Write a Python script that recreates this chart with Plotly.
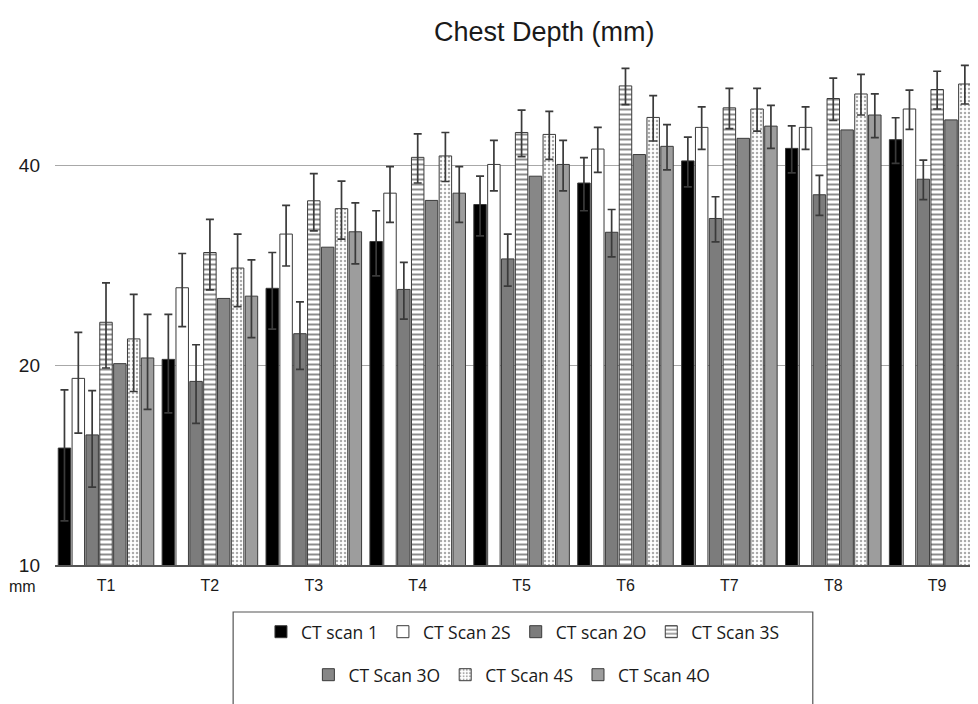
import plotly.graph_objects as go

categories = ["T1", "T2", "T3", "T4", "T5", "T6", "T7", "T8", "T9"]

scan1 = [15.0, 20.4, 26.1, 30.7, 34.9, 37.6, 40.6, 42.4, 43.7]
scan1_err = [3.35, 3.45, 3.45, 3.45, 3.6, 3.45, 3.5, 3.45, 3.45]
scan2S = [19.1, 26.15, 31.5, 36.3, 40.1, 42.3, 45.6, 45.6, 48.6]
scan2S_err = [3.3, 3.3, 3.3, 3.5, 3.5, 3.3, 3.35, 3.35, 3.3]
scan2O = [15.7, 18.9, 22.3, 26.0, 28.9, 31.7, 33.25, 36.1, 38.1]
scan2O_err = [2.6, 2.56, 2.6, 2.55, 2.6, 2.6, 2.6, 2.5, 2.6]
scan3S = [23.2, 29.55, 35.35, 41.1, 44.8, 52.65, 48.8, 50.4, 52.0]
scan3S_err = [3.4, 3.6, 3.5, 3.5, 3.6, 3.3, 3.4, 3.7, 3.4]
scan3O = [20.1, 25.2, 30.1, 35.4, 38.5, 41.5, 43.9, 45.2, 46.8]
scan4S = [21.9, 28.0, 34.4, 41.3, 44.5, 47.2, 48.6, 51.2, 53.0]
scan4S_err = [3.65, 3.5, 3.45, 3.5, 3.7, 3.7, 3.6, 3.6, 3.55]
scan4O = [20.5, 25.4, 31.75, 36.3, 40.1, 42.7, 45.8, 47.6, 48.5]
scan4O_err = [3.35, 3.4, 3.35, 3.5, 3.5, 3.35, 3.4, 3.6, 3.35]

y_ticks = [10, 20, 40]

OUT = "#3a3a3a"
ERR = "#3a3a3a"
LEG_FONT = dict(family="Open Sans, Lato, sans-serif", size=17.5, color="#1a1a1a")

series = [
    ("CT scan 1", scan1, scan1_err, dict(color="#000000"), "legend"),
    ("CT Scan 2S", scan2S, scan2S_err, dict(color="#ffffff"), "legend"),
    ("CT scan 2O", scan2O, scan2O_err, dict(color="#7c7c7c"), "legend"),
    ("CT Scan 3S", scan3S, scan3S_err,
     dict(color="#ffffff", pattern=dict(shape="-", size=5, solidity=0.4,
                                        fgcolor="#1a1a1a", bgcolor="#ffffff", fillmode="overlay")), "legend"),
    ("CT Scan 3O", scan3O, None, dict(color="#878787"), "legend2"),
    ("CT Scan 4S", scan4S, scan4S_err,
     dict(color="#ffffff", pattern=dict(shape=".", size=4, solidity=0.3,
                                        fgcolor="#555555", bgcolor="#ffffff", fillmode="overlay")), "legend2"),
    ("CT Scan 4O", scan4O, scan4O_err, dict(color="#9d9d9d"), "legend2"),
]

fig = go.Figure()
for name, vals, err, mk, lg in series:
    marker = dict(mk)
    marker["line"] = dict(color=OUT, width=1)
    kw = {}
    if err is not None:
        kw["error_y"] = dict(type="data", array=err, visible=True, color=ERR,
                             thickness=1.7, width=4)
    fig.add_trace(go.Bar(name=name, x=categories, y=vals, marker=marker,
                         legend=lg, **kw))

fig.update_layout(
    width=978, height=704,
    margin=dict(l=47, r=8, t=39, b=147),
    paper_bgcolor="white", plot_bgcolor="white",
    barmode="group", bargap=0.067, bargroupgap=0.1,
    font=dict(family="Liberation Sans, Arial, sans-serif", size=16, color="#1a1a1a"),
    title=dict(text="Chest Depth (mm)", x=0.53, xref="paper", xanchor="center",
               y=0.966, yref="container", yanchor="middle",
               font=dict(size=27, color="#1a1a1a")),
    xaxis=dict(range=[-0.491, 8.393], showline=True, linecolor="#555555", linewidth=1.5,
               showgrid=False, ticks="", ticklabelstandoff=5,
               tickfont=dict(size=16)),
    yaxis=dict(type="log", range=[1, 1.78], tickvals=y_ticks,
               ticktext=[str(v) for v in y_ticks],
               showgrid=True, gridcolor="#a8a8a8", gridwidth=1.2,
               zeroline=False, showline=False, ticks="", ticklabelstandoff=14,
               tickfont=dict(size=19)),
    legend=dict(orientation="h", x=0.507, xanchor="center", y=-0.129, yanchor="middle",
                font=LEG_FONT, bgcolor="rgba(0,0,0,0)", itemwidth=30, traceorder="normal"),
    legend2=dict(orientation="h", x=0.495, xanchor="center", y=-0.212, yanchor="middle",
                 font=LEG_FONT, bgcolor="rgba(0,0,0,0)", itemwidth=30, traceorder="normal"),
    shapes=[dict(type="rect", xref="paper", yref="paper",
                 x0=0.193, x1=0.821, y0=-0.0907, y1=-0.34,
                 line=dict(color="#555555", width=1.2), fillcolor="rgba(0,0,0,0)")],
    annotations=[dict(text="mm", xref="paper", yref="paper", x=-0.035, y=0,
                      xanchor="center", yanchor="top", yshift=-11, showarrow=False,
                      font=dict(size=16, color="#1a1a1a"))],
)

fig.write_html("out.html")
